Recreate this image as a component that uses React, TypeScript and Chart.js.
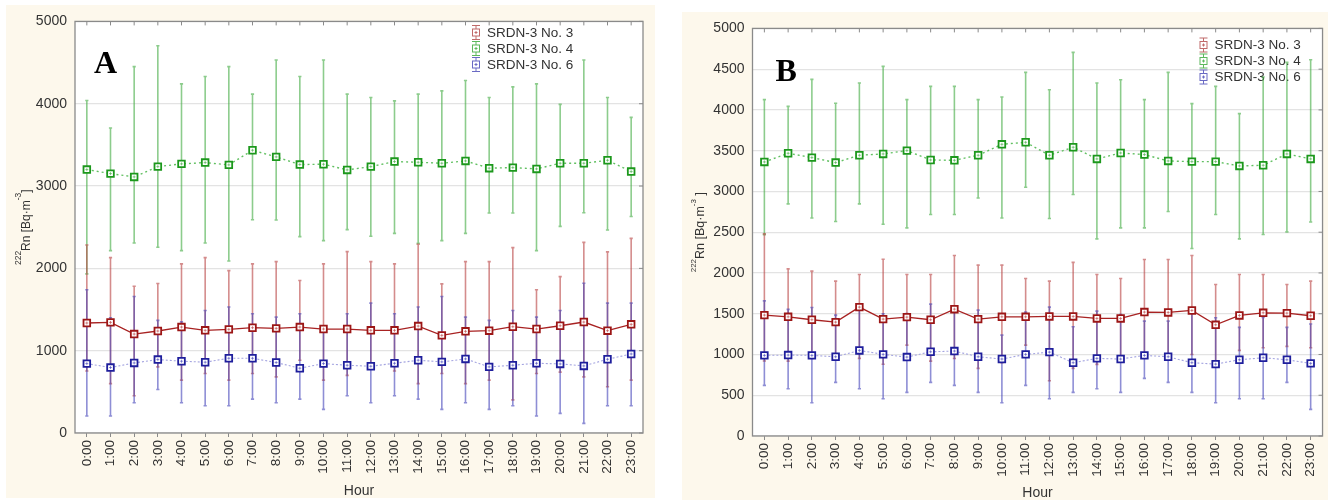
import React, { useEffect, useRef } from "react";
import { Chart, registerables } from "chart.js";

Chart.register(...registerables);
Chart.defaults.font.family = "'Liberation Sans', Arial, sans-serif";

// ---------- data ----------
const HOURS = ["0:00", "1:00", "2:00", "3:00", "4:00", "5:00", "6:00", "7:00", "8:00", "9:00", "10:00", "11:00",
  "12:00", "13:00", "14:00", "15:00", "16:00", "17:00", "18:00", "19:00", "20:00", "21:00", "22:00", "23:00"];

const SERIES_NAMES = ["SRDN-3 No. 3", "SRDN-3 No. 4", "SRDN-3 No. 6"];

// Panel A
const A_NO3_MEAN = [1336, 1344, 1202, 1239, 1287, 1247, 1259, 1279, 1271, 1287, 1263, 1263, 1247, 1247, 1299, 1186, 1235, 1243, 1291, 1263, 1303, 1348, 1243, 1320];
const A_NO3_HIGH = [2284, 2131, 1783, 1816, 2054, 2131, 1973, 2054, 2082, 1852, 2054, 2203, 2082, 2054, 2292, 1812, 2082, 2082, 2252, 1740, 1900, 2316, 2200, 2364];
const A_NO3_LOW = [754, 600, 452, 803, 642, 723, 642, 723, 682, 884, 642, 700, 795, 754, 600, 723, 600, 642, 403, 723, 740, 682, 561, 642];

const A_NO4_MEAN = [3200, 3151, 3111, 3236, 3269, 3285, 3257, 3435, 3354, 3261, 3265, 3196, 3236, 3297, 3289, 3277, 3305, 3217, 3224, 3208, 3277, 3277, 3313, 3176];
const A_NO4_HIGH = [4040, 3705, 4451, 4705, 4241, 4330, 4451, 4116, 4531, 4330, 4531, 4116, 4076, 4035, 4116, 4156, 4282, 4076, 4205, 4241, 3992, 4531, 4076, 3834];
const A_NO4_LOW = [1933, 2215, 2308, 2256, 2215, 2308, 2090, 2590, 2587, 2385, 2337, 2470, 2390, 2425, 2304, 2337, 2425, 2672, 2672, 2215, 2510, 2676, 2466, 2630];

const A_NO6_MEAN = [843, 795, 851, 892, 872, 860, 908, 908, 856, 787, 843, 823, 811, 847, 884, 864, 900, 803, 823, 847, 839, 815, 896, 960];
const A_NO6_HIGH = [1740, 1400, 1659, 1368, 1350, 1489, 1530, 1449, 1408, 1449, 1300, 1449, 1578, 1449, 1530, 1659, 1408, 1368, 1489, 1408, 1489, 1820, 1578, 1578];
const A_NO6_LOW = [206, 206, 367, 529, 367, 331, 331, 412, 367, 412, 287, 452, 367, 452, 412, 287, 367, 287, 331, 206, 238, 117, 331, 331];

// Panel B
const B_NO3_MEAN = [1483, 1462, 1426, 1397, 1581, 1434, 1458, 1426, 1556, 1434, 1462, 1462, 1467, 1467, 1442, 1442, 1520, 1516, 1540, 1364, 1479, 1511, 1507, 1475];
const B_NO3_HIGH = [2480, 2050, 2022, 1900, 1982, 2169, 1982, 1982, 2214, 2096, 2096, 1932, 1900, 2130, 1982, 1932, 2165, 2165, 2214, 1859, 1982, 1982, 1859, 1900];
const B_NO3_LOW = [920, 919, 950, 980, 952, 880, 1115, 919, 950, 829, 900, 1115, 678, 829, 879, 960, 1000, 980, 1000, 900, 1050, 1082, 1100, 1082];

const B_NO4_MEAN = [3362, 3468, 3415, 3354, 3444, 3460, 3501, 3386, 3382, 3444, 3578, 3603, 3444, 3542, 3399, 3472, 3452, 3374, 3366, 3366, 3313, 3321, 3460, 3399];
const B_NO4_HIGH = [4126, 4044, 4375, 4081, 4330, 4534, 4126, 4289, 4289, 4126, 4158, 4461, 4248, 4706, 4330, 4371, 4126, 4461, 4077, 4289, 3955, 4403, 4583, 4616];
const B_NO4_LOW = [2470, 2847, 2675, 2631, 2847, 2598, 2553, 2717, 2717, 2920, 2675, 3051, 2668, 2962, 2418, 2553, 2553, 2754, 2300, 2717, 2418, 2472, 2504, 2626];

const B_NO6_MEAN = [989, 993, 989, 972, 1050, 1001, 968, 1033, 1042, 972, 944, 1001, 1029, 899, 952, 944, 989, 972, 899, 882, 935, 960, 935, 891];
const B_NO6_HIGH = [1658, 1553, 1577, 1483, 1600, 1500, 1503, 1618, 1585, 1544, 1238, 1520, 1581, 1340, 1532, 1490, 1409, 1409, 1532, 1450, 1332, 1454, 1332, 1373];
const B_NO6_LOW = [621, 580, 408, 658, 580, 457, 535, 658, 621, 535, 408, 621, 457, 535, 580, 535, 707, 658, 535, 408, 457, 457, 658, 327];

const Y_MIN = 0;
const Y_MAX = 5000;
const A_STEP = 1000;
const B_STEP = 500;

// ---------- styles ----------
const CREAM = "#fdf8ec";
const AXIS = "#8a8a8a";
const TEXT = "#333333";

const STYLES = [
  { line: "#a82222", dash: [] as number[], lw: 1.3, marker: "#9c1616", bar: "rgba(185,70,70,0.62)", icon: "#c06a6a" },
  { line: "#62c062", dash: [2, 3], lw: 1.4, marker: "#1c981c", bar: "rgba(70,172,70,0.62)", icon: "#5cb85c" },
  { line: "#a4a4e0", dash: [2, 2], lw: 1.1, marker: "#1e1e9c", bar: "rgba(60,60,182,0.58)", icon: "#6a6ac4" },
];

type Panel = {
  letter: string;
  left: number; top: number; width: number; height: number;
  padTop: number; padRight: number; yAxisW: number; xAxisH: number;
  step: number;
  mean: number[][]; high: number[][]; low: number[][];
  letterX: number; letterY: number;
  legX: number; legTextX: number; legY: number;
  titleX: number; titleMain: string[]; titleFont: number; supFont: number; supRaise: number;
};

const PANEL_A: Panel = {
  letter: "A",
  left: 6, top: 5, width: 649, height: 493,
  padTop: 15, padRight: 12, yAxisW: 69, xAxisH: 65,
  step: A_STEP,
  mean: [A_NO3_MEAN, A_NO4_MEAN, A_NO6_MEAN],
  high: [A_NO3_HIGH, A_NO4_HIGH, A_NO6_HIGH],
  low: [A_NO3_LOW, A_NO4_LOW, A_NO6_LOW],
  letterX: 88, letterY: 68,
  legX: 470, legTextX: 481, legY: 27.5,
  titleX: 24, titleMain: ["Rn [Bq·m", "]"], titleFont: 12, supFont: 8.5, supRaise: 9.5,
};

const PANEL_B: Panel = {
  letter: "B",
  left: 682, top: 12, width: 648, height: 488,
  padTop: 16, padRight: 1.5, yAxisW: 70.5, xAxisH: 64,
  step: B_STEP,
  mean: [B_NO3_MEAN, B_NO4_MEAN, B_NO6_MEAN],
  high: [B_NO3_HIGH, B_NO4_HIGH, B_NO6_HIGH],
  low: [B_NO3_LOW, B_NO4_LOW, B_NO6_LOW],
  letterX: 93.5, letterY: 68.5,
  legX: 521.5, legTextX: 532.5, legY: 33,
  titleX: 22, titleMain: ["Rn [Bq·m", " ]"], titleFont: 12.5, supFont: 8, supRaise: 8,
};

function drawIcon(ctx: CanvasRenderingContext2D, x: number, y: number, color: string) {
  ctx.save();
  ctx.strokeStyle = color;
  ctx.lineWidth = 1;
  ctx.beginPath();
  ctx.moveTo(x, y - 7); ctx.lineTo(x, y + 7);
  ctx.moveTo(x - 4, y - 7); ctx.lineTo(x + 4, y - 7);
  ctx.moveTo(x - 4, y + 7); ctx.lineTo(x + 4, y + 7);
  ctx.stroke();
  ctx.fillStyle = "#fff";
  ctx.fillRect(x - 3.5, y - 3.5, 7, 7);
  ctx.strokeRect(x - 3.5, y - 3.5, 7, 7);
  ctx.beginPath();
  ctx.moveTo(x - 1.5, y); ctx.lineTo(x + 1.5, y);
  ctx.moveTo(x, y - 1.5); ctx.lineTo(x, y + 1.5);
  ctx.stroke();
  ctx.restore();
}

function makePlugin(p: Panel) {
  return {
    id: "panelDeco" + p.letter,
    beforeDraw(chart: any) {
      const { ctx, width, height, chartArea: a } = chart;
      ctx.save();
      ctx.fillStyle = CREAM;
      ctx.fillRect(0, 0, width, height);
      ctx.fillStyle = "#ffffff";
      ctx.fillRect(a.left, a.top, a.right - a.left, a.bottom - a.top);
      ctx.restore();
    },
    beforeDatasetsDraw(chart: any) {
      const { ctx, chartArea: a } = chart;
      const ys = chart.scales.y;
      // legend (behind bars)
      ctx.save();
      ctx.font = "13.5px 'Liberation Sans', Arial, sans-serif";
      ctx.fillStyle = TEXT;
      ctx.textBaseline = "middle";
      ctx.textAlign = "left";
      SERIES_NAMES.forEach((name, i) => {
        const y = p.legY + i * 16;
        drawIcon(ctx, p.legX, y, STYLES[i].icon);
        ctx.fillStyle = TEXT;
        ctx.fillText(name, p.legTextX, y + 0.5);
      });
      ctx.restore();
      // error bars
      ctx.save();
      ctx.beginPath();
      ctx.rect(a.left, a.top, a.right - a.left, a.bottom - a.top);
      ctx.clip();
      [1, 0, 2].forEach((si) => {
        const meta = chart.getDatasetMeta(si);
        ctx.strokeStyle = STYLES[si].bar;
        ctx.lineWidth = 1.6;
        meta.data.forEach((pt: any, i: number) => {
          const x = pt.x;
          const yh = ys.getPixelForValue(p.high[si][i]);
          const yl = ys.getPixelForValue(p.low[si][i]);
          ctx.beginPath();
          ctx.moveTo(x, yh); ctx.lineTo(x, yl);
          ctx.moveTo(x - 1.6, yh); ctx.lineTo(x + 1.6, yh);
          ctx.moveTo(x - 1.6, yl); ctx.lineTo(x + 1.6, yl);
          ctx.stroke();
        });
      });
      ctx.restore();
    },
    afterDatasetsDraw(chart: any) {
      const { ctx } = chart;
      ctx.save();
      [2, 1, 0].forEach((si) => {
        const meta = chart.getDatasetMeta(si);
        ctx.strokeStyle = STYLES[si].bar;
        ctx.lineWidth = 1;
        meta.data.forEach((pt: any) => {
          ctx.beginPath();
          ctx.moveTo(pt.x - 1.5, pt.y); ctx.lineTo(pt.x + 1.5, pt.y);
          ctx.moveTo(pt.x, pt.y - 1.5); ctx.lineTo(pt.x, pt.y + 1.5);
          ctx.stroke();
        });
      });
      ctx.restore();
    },
    afterDraw(chart: any) {
      const { ctx, chartArea: a } = chart;
      const xs = chart.scales.x;
      const ys = chart.scales.y;
      ctx.save();
      // frame
      ctx.strokeStyle = AXIS;
      ctx.lineWidth = 1.3;
      ctx.strokeRect(a.left, a.top, a.right - a.left, a.bottom - a.top);
      ctx.lineWidth = 1;
      ctx.beginPath();
      HOURS.forEach((_, i) => {
        const x = xs.getPixelForValue(i);
        ctx.moveTo(x, a.top); ctx.lineTo(x, a.top + 4);
      });
      ys.ticks.forEach((t: any) => {
        const y = ys.getPixelForValue(t.value);
        ctx.moveTo(a.right, y); ctx.lineTo(a.right - 4, y);
      });
      ctx.stroke();
      // panel letter
      ctx.fillStyle = "#000";
      ctx.font = "bold 32px 'Liberation Serif', 'Times New Roman', serif";
      ctx.textBaseline = "alphabetic";
      ctx.textAlign = "left";
      ctx.fillText(p.letter, p.letterX, p.letterY);
      // y title with superscripts
      const cy = (a.top + a.bottom) / 2;
      const mainFont = `${p.titleFont}px 'Liberation Sans', Arial, sans-serif`;
      const supFont = `${p.supFont}px 'Liberation Sans', Arial, sans-serif`;
      const segs: [string, boolean][] = [["222", true], [p.titleMain[0], false], ["-3", true], [p.titleMain[1], false]];
      let total = 0;
      const widths = segs.map(([s, sup]) => {
        ctx.font = sup ? supFont : mainFont;
        const w = ctx.measureText(s).width;
        total += w;
        return w;
      });
      ctx.translate(p.titleX, cy);
      ctx.rotate(-Math.PI / 2);
      ctx.fillStyle = TEXT;
      let cx = -total / 2;
      segs.forEach(([s, sup], i) => {
        ctx.font = sup ? supFont : mainFont;
        ctx.fillText(s, cx, sup ? -p.supRaise : 0);
        cx += widths[i];
      });
      ctx.restore();
    },
  };
}

function PanelChart({ p }: { p: Panel }) {
  const ref = useRef<HTMLCanvasElement | null>(null);
  useEffect(() => {
    if (!ref.current) return;
    const datasets = SERIES_NAMES.map((name, i) => ({
      label: name,
      data: p.mean[i],
      borderColor: STYLES[i].line,
      borderWidth: STYLES[i].lw,
      borderDash: STYLES[i].dash,
      pointStyle: "rect" as const,
      pointRadius: 4.7,
      pointBorderWidth: 1.8,
      pointBorderColor: STYLES[i].marker,
      pointBackgroundColor: "#ffffff",
      fill: false,
      tension: 0,
    }));
    const chart = new Chart(ref.current, {
      type: "line",
      data: { labels: HOURS, datasets },
      options: {
        responsive: false,
        animation: false,
        devicePixelRatio: 1,
        events: [],
        layout: { padding: { top: p.padTop, right: p.padRight, left: 0, bottom: 0 } },
        plugins: { legend: { display: false }, tooltip: { enabled: false } },
        scales: {
          x: {
            type: "category",
            offset: true,
            grid: { display: true, drawOnChartArea: false, drawTicks: true, tickLength: 4, tickColor: AXIS, color: AXIS },
            border: { display: false },
            ticks: { autoSkip: false, maxRotation: 90, minRotation: 90, padding: 3, color: TEXT, font: { size: 13.5 } },
            title: { display: true, text: "Hour", color: TEXT, font: { size: 14, lineHeight: 1 }, padding: 0 },
            afterFit: (s: any) => { s.height = p.xAxisH; },
          },
          y: {
            min: Y_MIN,
            max: Y_MAX,
            ticks: {
              stepSize: p.step, padding: 8, color: TEXT, font: { size: 14 },
              callback: (v: any) => String(v),
            },
            grid: { color: "#e3e3e3", lineWidth: 1.3, drawTicks: false },
            border: { display: false },
            afterFit: (s: any) => { s.width = p.yAxisW; },
          },
        },
      },
      plugins: [makePlugin(p)],
    } as any);
    return () => chart.destroy();
  }, [p]);
  return (
    <canvas
      ref={ref}
      width={p.width}
      height={p.height}
      style={{ position: "absolute", left: p.left, top: p.top, width: p.width, height: p.height }}
    />
  );
}

export default function App() {
  return (
    <div style={{ position: "absolute", left: 0, top: 0, width: 1328, height: 500, overflow: "hidden", background: "#ffffff" }}>
      <PanelChart p={PANEL_A} />
      <PanelChart p={PANEL_B} />
    </div>
  );
}
